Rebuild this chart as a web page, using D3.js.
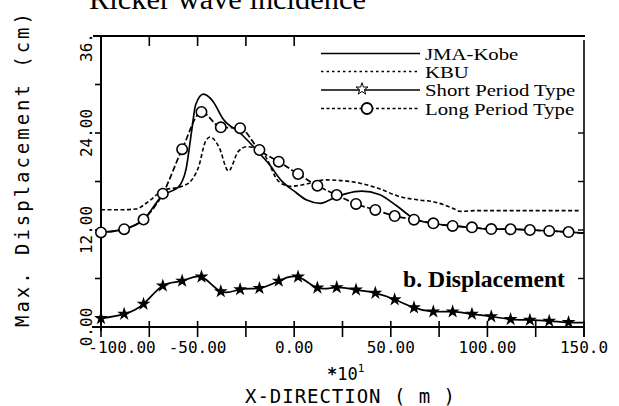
<!DOCTYPE html>
<html><head><meta charset="utf-8">
<script src="https://cdn.jsdelivr.net/npm/d3@7"></script>
<style>body{margin:0;background:#fff}svg{display:block}</style>
</head><body><svg id="c" width="619" height="406"></svg>
<script>
// ---- data ----
const nodeX = [-100,-88,-78,-68,-58,-48,-38,-28,-18,-8,2,12,22,32,42,52,62,72,82,92,102,112,122,132,142];
const shortY = [1.07,1.6,2.85,5.1,5.7,6.2,4.4,4.65,4.8,5.7,6.2,4.85,4.9,4.6,4.2,3.4,2.4,1.9,1.9,1.6,1.3,0.95,0.87,0.74,0.58];
const longY  = [11.7,12.1,13.3,16.5,22.0,26.6,24.7,24.6,21.9,20.45,18.93,17.48,16.33,15.22,14.48,13.73,13.28,12.83,12.5,12.33,12.12,12.09,12.0,11.88,11.75];
const tailX = 150, shortTailY = 0.55, longTailY = 11.6;
const jmaX = [-100,-88,-78,-68,-60,-56,-53,-51,-47,-42,-37,-28,-18,-12.5,-7,0,6.5,13.5,20,27,35,44,53,62,72,82,92,102,112,122,132,142,150];
const jmaY = [11.7,12.1,13.3,16.3,17.3,19.5,24.4,27.5,28.8,27.9,25.8,24.0,21.5,20.0,18.2,16.8,15.7,15.3,15.9,16.5,16.8,16.4,15.0,13.4,12.8,12.5,12.3,12.1,12.1,12.0,11.9,11.75,11.6];
const kbuX = [-100,-90,-82,-75,-68,-58,-53,-49.5,-46,-43.5,-39,-34,-29,-24.5,-20,-16,-8,-2,6.5,16,29,43,55,65,72,82,86,95,148];
const kbuY = [14.5,14.5,14.6,15.6,16.9,17.4,18.2,19.8,22.9,23.5,22.3,19.3,21.7,22.3,22.1,21.5,18.0,17.4,17.7,18.2,18.0,17.2,16.1,15.7,15.5,14.7,14.3,14.4,14.4];
const xTicks = [-100,-75,-50,-25,0,25,50,75,100,125,150];
const xLabelVals = [-100,-50,0,50,100,150];
const xLabels = ["-100.00","-50.00","0.00","50.00","100.00","150.0"];
const yTicks = [0,6,12,18,24,30,36];
const yLabelVals = [0,12,24,36];
const yLabels = ["0.00","12.00","24.00","36."];
const legendNames = ["JMA-Kobe","KBU","Short Period Type","Long Period Type"];

// ---- chart ----
const svg = d3.select("#c");
const x = d3.scaleLinear().domain([-100,150]).range([101,584]);
const y = d3.scaleLinear().domain([0,36]).range([327,36]);
const mono = "DejaVu Sans Mono";
const serif = "Liberation Serif";

// title (cut off at top)
svg.append("text").attr("x",89).attr("y",9).attr("font-family",serif).attr("font-size",30)
  .attr("textLength",277).attr("lengthAdjust","spacingAndGlyphs").text("Ricker wave incidence");

// frame
const g = svg.append("g").attr("stroke","#000").attr("fill","none");
g.append("line").attr("x1",93).attr("x2",585).attr("y1",y(36)).attr("y2",y(36)).attr("stroke-width",2);
g.append("line").attr("x1",x(-100)).attr("x2",x(-100)).attr("y1",y(36)).attr("y2",y(0)+4).attr("stroke-width",2);
g.append("line").attr("x1",92).attr("x2",x(150)).attr("y1",y(0)).attr("y2",y(0)).attr("stroke-width",2.2);
g.append("line").attr("x1",x(150)).attr("x2",x(150)).attr("y1",40).attr("y2",y(0)+10).attr("stroke-width",1.6);
g.selectAll(".xt").data(xTicks).join("line").attr("x1",d=>x(d)).attr("x2",d=>x(d)).attr("y1",y(0)-6).attr("y2",y(0)+10).attr("stroke-width",1.6);
g.selectAll(".tt").data(xTicks.filter(d=>d>-100&&d<=0)).join("line").attr("x1",d=>x(d)).attr("x2",d=>x(d)).attr("y1",y(36)).attr("y2",y(36)+10).attr("stroke-width",1.6);
g.selectAll(".yt").data(yTicks.filter(d=>d>0)).join("line").attr("x1",x(-100)-6).attr("x2",x(-100)).attr("y1",d=>y(d)).attr("y2",d=>y(d)).attr("stroke-width",1.6);
g.selectAll(".rt").data(yTicks.filter(d=>d>0&&d<=24)).join("line").attr("x1",x(150)-6).attr("x2",x(150)).attr("y1",d=>y(d)).attr("y2",d=>y(d)).attr("stroke-width",1.4);

// x tick labels
svg.selectAll(".xl").data(xLabelVals).join("text")
  .attr("x",(d,i)=>x(d)+(i===0?21:0)).attr("y",353)
  .attr("text-anchor","middle").attr("font-family",mono).attr("font-size",16).text((d,i)=>xLabels[i]);
// y tick labels (rotated)
svg.selectAll(".yl").data(yLabelVals).join("text")
  .attr("transform",d=>`translate(92,${y(d)+(d===36?26:0)}) rotate(-90)`)
  .attr("text-anchor",d=>d===36?"start":"middle").attr("font-family",mono).attr("font-size",16)
  .text((d,i)=>yLabels[i]);

// axis titles
svg.append("text").attr("transform","translate(29,327) rotate(-90)").attr("font-family",mono).attr("font-size",19)
  .attr("textLength",314).attr("lengthAdjust","spacing").text("Max. Displacement (cm)");
svg.append("text").attr("x",245).attr("y",403).attr("font-family",mono).attr("font-size",19)
  .attr("textLength",210).attr("lengthAdjust","spacing").text("X-DIRECTION ( m )");
const sc = svg.append("text").attr("x",327).attr("y",380).attr("font-family",mono).attr("font-size",17);
sc.append("tspan").attr("font-weight","bold").text("*");
sc.append("tspan").text("10");
sc.append("tspan").attr("font-size",11).attr("dy",-8).text("1");

// series lines
const lineM = d3.line().x(d=>x(d[0])).y(d=>y(d[1])).curve(d3.curveMonotoneX);
const lineN = d3.line().x(d=>x(d[0])).y(d=>y(d[1])).curve(d3.curveNatural);
const jma = jmaX.map((v,i)=>[v,jmaY[i]]);
const kbu = kbuX.map((v,i)=>[v,kbuY[i]]);
const shortPts = nodeX.map((v,i)=>[v,shortY[i]]);
const longPts = nodeX.map((v,i)=>[v,longY[i]]);

svg.append("path").attr("d",lineM(kbu)).attr("fill","none").attr("stroke","#000").attr("stroke-width",1.6).attr("stroke-dasharray","4,2.5");
svg.append("path").attr("d",lineM(jma)).attr("fill","none").attr("stroke","#000").attr("stroke-width",1.7);
svg.append("path").attr("d",lineM(longPts.concat([[tailX,longTailY]]))).attr("fill","none").attr("stroke","#000").attr("stroke-width",1.7).attr("stroke-dasharray","6,2.5");
svg.append("path").attr("d",lineN(shortPts.concat([[tailX,shortTailY]]))).attr("fill","none").attr("stroke","#000").attr("stroke-width",1.7);

// markers
const star = d3.symbol().type(d3.symbolStar).size(60);
svg.selectAll(".st").data(shortPts).join("path").attr("d",star)
  .attr("transform",d=>`translate(${x(d[0])},${y(d[1])})`).attr("fill","#000");
svg.selectAll(".ci").data(longPts).join("circle").attr("cx",d=>x(d[0])).attr("cy",d=>y(d[1])).attr("r",5.2)
  .attr("fill","#fff").attr("stroke","#000").attr("stroke-width",1.6);

// legend
const leg = svg.append("g");
const ly = [59.5,77.5,96,114.5];
const styles = [null,"2.5,3",null,"3,2.5"];
legendNames.forEach((n,i)=>{
  leg.append("line").attr("x1",321).attr("x2",420).attr("y1",ly[i]-6).attr("y2",ly[i]-6)
    .attr("stroke","#000").attr("stroke-width",1.6).attr("stroke-dasharray",styles[i]);
  const t = leg.append("text").attr("x",425).attr("y",ly[i]).attr("font-family",serif).attr("font-size",17).text(n);
  const w = t.node().getComputedTextLength();
  t.attr("textLength",w*1.22).attr("lengthAdjust","spacingAndGlyphs");
});
leg.append("path").attr("d",d3.symbol().type(d3.symbolStar).size(45)).attr("transform",`translate(362,${ly[2]-7})`).attr("fill","#fff").attr("stroke","#000").attr("stroke-width",1);
leg.append("circle").attr("cx",367).attr("cy",ly[3]-6).attr("r",5.5).attr("fill","#fff").attr("stroke","#000").attr("stroke-width",1.8);

// panel label
svg.append("text").attr("x",403).attr("y",287).attr("font-family",serif).attr("font-weight","bold").attr("font-size",23)
  .attr("textLength",162).attr("lengthAdjust","spacingAndGlyphs").text("b. Displacement");
</script></body></html>
